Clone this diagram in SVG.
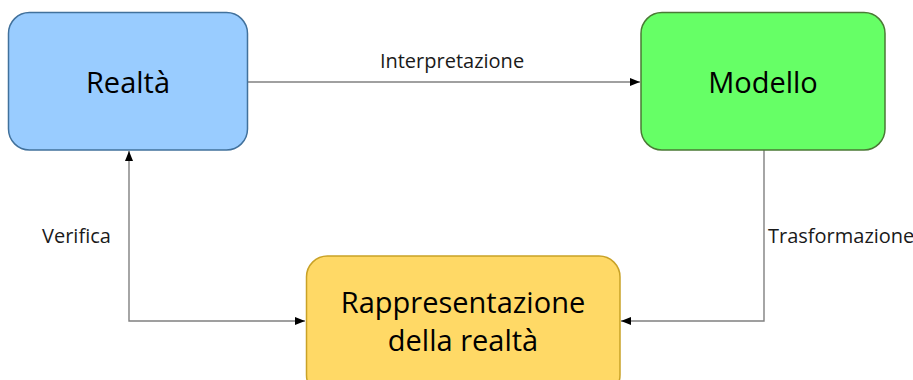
<svg xmlns="http://www.w3.org/2000/svg" width="913" height="380" viewBox="0 0 913 380">
  <style>
    .box { stroke-width: 1.5; }
    .big { font-family: "Open Sans", "Noto Sans", "Liberation Sans", sans-serif; font-size: 29px; fill: #000; text-anchor: middle; }
    .lbl { font-family: "Open Sans", "Noto Sans", "Liberation Sans", sans-serif; font-size: 20px; fill: #1a1a1a; }
    .edge { fill: none; stroke: #808080; stroke-width: 1.4; }
  </style>
  <defs>
    <marker id="arrow" viewBox="0 0 10 10" refX="10" refY="5" markerWidth="10" markerHeight="10" markerUnits="userSpaceOnUse" orient="auto-start-reverse">
      <path d="M0,1 L10,5 L0,9 Z" fill="#000"/>
    </marker>
  </defs>
  <rect width="913" height="380" fill="#fff"/>

  <g id="connectors">
    <!-- Realtà to Modello -->
    <path class="edge" d="M247,82 H640" marker-end="url(#arrow)"/>
    <text class="lbl" x="452" y="68" text-anchor="middle">Interpretazione</text>
    <!-- Rappresentazione back to Realtà (both ends) -->
    <path class="edge" d="M129,151 V321 H305" marker-start="url(#arrow)" marker-end="url(#arrow)"/>
    <text class="lbl" x="42" y="243">Verifica</text>
    <!-- Modello to Rappresentazione -->
    <path class="edge" d="M764,150 V321 H621" marker-end="url(#arrow)"/>
    <text class="lbl" x="768" y="243">Trasformazione</text>
  </g>

  <g id="realta">
    <rect class="box" x="8.5" y="12.5" width="239" height="137.5" rx="21" fill="#99CCFF" stroke="#41719C"/>
    <text class="big" x="128" y="93">Realtà</text>
  </g>

  <g id="modello">
    <rect class="box" x="641" y="12.5" width="244" height="137.5" rx="21" fill="#66FF66" stroke="#4A7A35"/>
    <text class="big" x="763" y="93">Modello</text>
  </g>

  <g id="rappresentazione">
    <rect class="box" x="306.5" y="256" width="313.5" height="140" rx="21" fill="#FFD966" stroke="#C9A227"/>
    <text class="big" x="463" y="313">Rappresentazione</text>
    <text class="big" x="463" y="351">della realtà</text>
  </g>
</svg>
